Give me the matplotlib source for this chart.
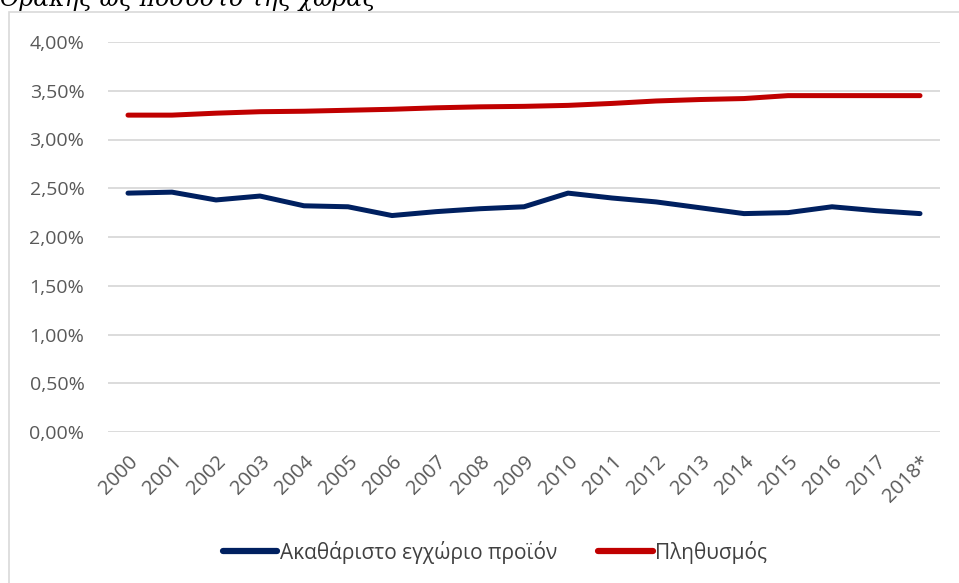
import matplotlib
matplotlib.use('Agg')
import matplotlib.pyplot as plt
from matplotlib.patches import Rectangle
from matplotlib.ticker import FuncFormatter
import numpy as np

# Data (share of the country, %)
years = ['2000', '2001', '2002', '2003', '2004', '2005', '2006', '2007', '2008', '2009',
         '2010', '2011', '2012', '2013', '2014', '2015', '2016', '2017', '2018*']
gdp_share = [2.45, 2.46, 2.38, 2.42, 2.32, 2.31, 2.22, 2.26, 2.29, 2.31,
             2.45, 2.40, 2.36, 2.30, 2.24, 2.25, 2.31, 2.27, 2.24]
pop_share = [3.25, 3.25, 3.27, 3.285, 3.29, 3.30, 3.31, 3.325, 3.335, 3.34,
             3.35, 3.37, 3.395, 3.41, 3.42, 3.45, 3.45, 3.45, 3.45]
labels = ['Ακαθάριστο εγχώριο προϊόν', 'Πληθυσμός']

W, H = 959, 583
fig = plt.figure(figsize=(W / 100, H / 100), dpi=100)
font = ['Open Sans', 'DejaVu Sans']

# clipped caption above the chart box
fig.text(0 / W, 1 - 6 / H, 'Θράκης ως ποσοστό της χώρας', fontsize=17,
         family='DejaVu Serif', style='italic', va='baseline', ha='left', color='black')

# chart area border
fig.patches.append(Rectangle((9 / W, -0.05), 1.1, 1 - 12 / H + 0.05,
                             transform=fig.transFigure, fill=False,
                             edgecolor='#d9d9d9', linewidth=1.2))

ax = fig.add_axes([108 / W, 151 / H, (940 - 108) / W, (432 - 42) / H])

x = np.arange(len(years))
ax.plot(x, gdp_share, color='#002060', linewidth=3.6, solid_capstyle='round',
        solid_joinstyle='round', label=labels[0])
ax.plot(x, pop_share, color='#C00000', linewidth=3.6, solid_capstyle='round',
        solid_joinstyle='round', label=labels[1])

ax.set_ylim(0, 4.0)
ax.set_yticks(np.arange(0, 4.01, 0.5))
ax.yaxis.set_major_formatter(FuncFormatter(lambda v, p: f'{v:.2f}%'.replace('.', ',')))
pad = 20 / 44
ax.set_xlim(-pad, len(years) - 1 + pad)
ax.set_xticks(x)
ax.set_xticklabels(years, rotation=45, ha='right', va='top', rotation_mode='anchor')

for s in ax.spines.values():
    s.set_visible(False)
ax.grid(axis='y', color='#d9d9d9', linewidth=1.3)
ax.set_axisbelow(True)
ax.tick_params(length=0, labelsize=14, labelcolor='#595959')
ax.tick_params(axis='y', pad=17)
ax.tick_params(axis='x', pad=14, labelsize=14.5)
for t in ax.get_xticklabels() + ax.get_yticklabels():
    t.set_family(font)

leg = fig.legend(loc='center', bbox_to_anchor=(495 / W, 1 - 552 / H), ncol=2,
                 frameon=False, handlelength=2.6, handletextpad=0.1, columnspacing=2.0,
                 prop={'family': font, 'size': 15})
for line in leg.get_lines():
    line.set_linewidth(4.5)
for t in leg.get_texts():
    t.set_color('#404040')

fig.savefig('out.png', dpi=100)
